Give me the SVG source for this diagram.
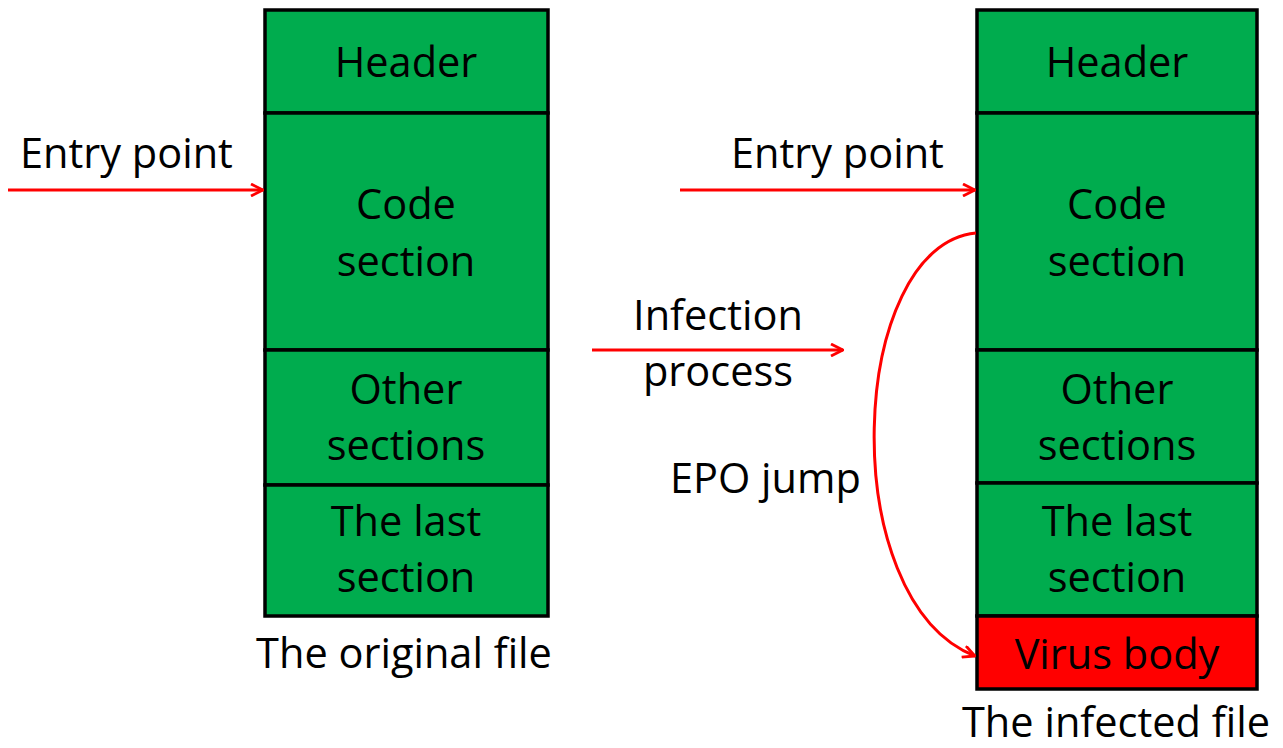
<svg xmlns="http://www.w3.org/2000/svg" width="1283" height="748" viewBox="0 0 1283 748">
  <style>
    .sec { fill: #00AC4E; stroke: #000; stroke-width: 3.5; }
    .virus { fill: #FF0000; stroke: #000; stroke-width: 3.5; }
    text { font-family: "Open Sans", "Liberation Sans", sans-serif; font-size: 41.5px; fill: #000; }
    .c { text-anchor: middle; }
    .arrow { fill: none; stroke: #FF0000; stroke-width: 3; marker-end: url(#head); }
  </style>
  <defs>
    <marker id="head" viewBox="0 0 14 14" refX="13" refY="7" markerWidth="14" markerHeight="14" markerUnits="userSpaceOnUse" orient="auto">
      <path d="M1,1 L13,7 L1,13" fill="none" stroke="#FF0000" stroke-width="2.8"/>
    </marker>
  </defs>

  <rect width="1283" height="748" fill="#fff"/>

  <!-- original file -->
  <g id="orig-header"><rect class="sec" x="265" y="10" width="283" height="103"/><text class="c" x="406" y="77">Header</text></g>
  <g id="orig-code"><rect class="sec" x="265" y="113" width="283" height="237"/><text class="c" x="406" y="219">Code</text><text class="c" x="406" y="276">section</text></g>
  <g id="orig-other"><rect class="sec" x="265" y="350" width="283" height="135"/><text class="c" x="406" y="404">Other</text><text class="c" x="406" y="460">sections</text></g>
  <g id="orig-last"><rect class="sec" x="265" y="485" width="283" height="131"/><text class="c" x="406" y="536">The last</text><text class="c" x="406" y="592">section</text></g>
  <g id="orig-label"><text class="c" x="404" y="668">The original file</text></g>

  <!-- infected file -->
  <g id="inf-header"><rect class="sec" x="977" y="10" width="280" height="103"/><text class="c" x="1117" y="77">Header</text></g>
  <g id="inf-code"><rect class="sec" x="977" y="113" width="280" height="237"/><text class="c" x="1117" y="219">Code</text><text class="c" x="1117" y="276">section</text></g>
  <g id="inf-other"><rect class="sec" x="977" y="350" width="280" height="133"/><text class="c" x="1117" y="404">Other</text><text class="c" x="1117" y="460">sections</text></g>
  <g id="inf-last"><rect class="sec" x="977" y="483" width="280" height="133"/><text class="c" x="1117" y="536">The last</text><text class="c" x="1117" y="592">section</text></g>
  <g id="inf-virus"><rect class="virus" x="977" y="616" width="280" height="73"/><text class="c" x="1117" y="669">Virus body</text></g>
  <g id="inf-label"><text class="c" x="1116" y="737">The infected file</text></g>

  <!-- labels -->
  <g id="entry-left"><text x="20" y="168">Entry point</text></g>
  <g id="entry-right"><text x="731" y="168">Entry point</text></g>
  <g id="infection"><text class="c" x="718" y="330">Infection</text><text class="c" x="718" y="386">process</text></g>
  <g id="epo"><text x="670" y="493">EPO jump</text></g>

  <!-- connectors -->
  <g id="connectors">
    <path class="arrow" d="M8,190 L263,190"/>
    <path class="arrow" d="M680,190 L975,190"/>
    <path class="arrow" d="M592,350 L843,350"/>
    <path class="arrow" d="M976,233 C848,245 833,600 975,656"/>
  </g>
</svg>
